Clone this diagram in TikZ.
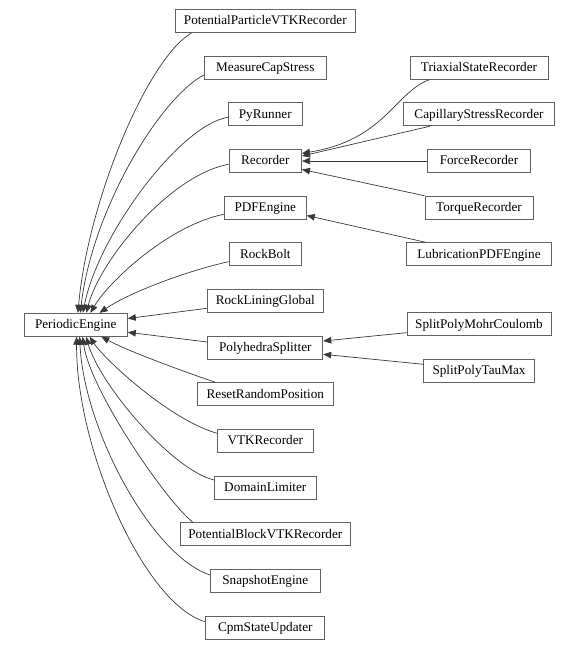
\documentclass[tikz,border=0pt]{standalone}
\usepackage{fontspec}
\setmainfont{Liberation Serif}
\usetikzlibrary{arrows.meta}
\begin{document}
\begin{tikzpicture}[x=1pt,y=-1pt,
  cls/.style={draw=black!62, line width=0.9pt, minimum height=23pt, inner sep=0pt,
    text height=11pt, text depth=3.5pt,
    font=\fontsize{13.2pt}{15pt}\selectfont},
  edge/.style={draw=black!78, line width=0.7pt, -{Triangle[length=8pt,width=6.5pt]}}]
\useasboundingbox (0,0) rectangle (578,650);
% main node
\node[cls, minimum width=103.3pt] (pe) at (75.7,324.8) {PeriodicEngine};
% middle column
\node[cls, minimum width=180pt] (ppvtkr) at (265.3,21) {PotentialParticleVTKRecorder};
\node[cls, minimum width=122pt] (mcs) at (265.3,67.7) {MeasureCapStress};
\node[cls, minimum width=74pt] (pyr) at (265.3,114.3) {PyRunner};
\node[cls, minimum width=72.5pt] (rec) at (265.3,161) {Recorder};
\node[cls, minimum width=82pt] (pdf) at (265.3,207.7) {PDFEngine};
\node[cls, minimum width=72.5pt] (rb) at (265.3,254.3) {RockBolt};
\node[cls, minimum width=116pt] (rlg) at (265.3,301) {RockLiningGlobal};
\node[cls, minimum width=115pt] (ps) at (265.3,347.7) {PolyhedraSplitter};
\node[cls, minimum width=136.5pt] (rrp) at (265.3,394.3) {ResetRandomPosition};
\node[cls, minimum width=95.5pt] (vtk) at (265.3,441) {VTKRecorder};
\node[cls, minimum width=101.5pt] (dl) at (265.3,487.7) {DomainLimiter};
\node[cls, minimum width=169.5pt] (pb) at (265.3,534.3) {PotentialBlockVTKRecorder};
\node[cls, minimum width=109.5pt] (se) at (265.3,581) {SnapshotEngine};
\node[cls, minimum width=119pt] (csu) at (265.3,627.7) {CpmStateUpdater};
% right column
\node[cls, minimum width=138pt] (tsr) at (479,67.7) {TriaxialStateRecorder};
\node[cls, minimum width=151pt] (csr) at (479,114.3) {CapillaryStressRecorder};
\node[cls, minimum width=102.6pt] (fr) at (479,161) {ForceRecorder};
\node[cls, minimum width=108pt] (tr) at (479,207.7) {TorqueRecorder};
\node[cls, minimum width=144.4pt] (lpdf) at (479,254.3) {LubricationPDFEngine};
\node[cls, minimum width=144pt] (spmc) at (479,324.3) {SplitPolyMohrCoulomb};
\node[cls, minimum width=110.4pt] (sptm) at (479,371) {SplitPolyTauMax};
% edges to PeriodicEngine (top)
\draw[edge] ([xshift=16.7pt]ppvtkr.south west) .. controls (148,58) and (88,200) .. ([xshift=54.3pt]pe.north west);
\draw[edge] ([yshift=-7.3pt]mcs.west) .. controls (160,98) and (92,210) .. ([xshift=56.7pt]pe.north west);
\draw[edge] ([yshift=-3pt]pyr.west) .. controls (180,125) and (98,235) .. ([xshift=59.3pt]pe.north west);
\draw[edge] ([yshift=-3.3pt]rec.west) .. controls (170,175) and (100,260) .. ([xshift=62.7pt]pe.north west);
\draw[edge] ([yshift=-6.6pt]pdf.west) .. controls (170,225) and (110,280) .. ([xshift=66.7pt]pe.north west);
\draw[edge] ([yshift=-7.4pt]rb.west) .. controls (190,270) and (130,292) .. ([xshift=76pt]pe.north west);
\draw[edge] ([yshift=-7.3pt]rlg.west) -- ([yshift=6.3pt]pe.east);
\draw[edge] ([yshift=5.7pt]ps.west) -- ([yshift=-7.5pt]pe.east);
% edges to PeriodicEngine (bottom)
\draw[edge] ([xshift=19pt]rrp.north west) .. controls (185,372) and (130,352) .. ([xshift=77.7pt]pe.south west);
\draw[edge] ([yshift=7.7pt]vtk.west) .. controls (170,420) and (105,360) .. ([xshift=66pt]pe.south west);
\draw[edge] ([yshift=7.7pt]dl.west) .. controls (172,470) and (100,385) .. ([xshift=62.5pt]pe.south west);
\draw[edge] ([xshift=12.8pt]pb.north west) .. controls (165,500) and (90,390) .. ([xshift=59pt]pe.south west);
\draw[edge] ([yshift=6pt]se.west) .. controls (152,556) and (84,430) .. ([xshift=56pt]pe.south west);
\draw[edge] ([yshift=6pt]csu.west) .. controls (145,605) and (76,450) .. ([xshift=53pt]pe.south west);
% edges to Recorder
\draw[edge] ([xshift=20pt]tsr.south west) .. controls (395,92) and (385,140) .. ([yshift=7.7pt]rec.east);
\draw[edge] ([xshift=26.8pt]csr.south west) -- ([yshift=5pt]rec.east);
\draw[edge] (fr.west) -- (rec.east);
\draw[edge] (tr.north west) -- ([yshift=-8.5pt]rec.east);
% edge to PDFEngine
\draw[edge] ([xshift=19.6pt]lpdf.north west) -- ([yshift=-7.8pt]pdf.east);
% edges to PolyhedraSplitter
\draw[edge] ([yshift=-8.4pt]spmc.west) -- ([yshift=6.7pt]ps.east);
\draw[edge] ([yshift=6.7pt]sptm.west) -- ([yshift=-6.6pt]ps.east);
\end{tikzpicture}
\end{document}
